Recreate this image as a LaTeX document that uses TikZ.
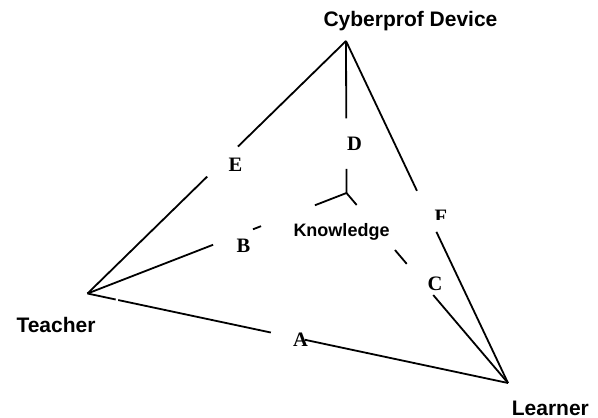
\documentclass[tikz,border=0pt]{standalone}
\usepackage{fontspec}
\newfontfamily\lsans{Liberation Sans}
\newfontfamily\lserif{Liberation Serif}
\usetikzlibrary{calc}
\begin{document}
\begin{tikzpicture}[x=1pt,y=-1pt,
  edge/.style={line width=1.8pt, line cap=butt},
  vname/.style={font=\lsans\bfseries\fontsize{21}{24}\selectfont, inner sep=0pt, anchor=base},
  kname/.style={font=\lsans\bfseries\fontsize{18}{21}\selectfont, inner sep=0pt, anchor=base},
  letter/.style={font=\lserif\bfseries\fontsize{20.5}{24}\selectfont, inner sep=0pt, anchor=base}]
\useasboundingbox (0,0) rectangle (598,418);
% vertices
\coordinate (apex) at (346,41);
\coordinate (teacher) at (87.5,293.5);
\coordinate (learner) at (508,383);
\coordinate (know) at (346.5,193);
% vertex labels
\node[vname] (tcyber) at (410.5,26) {Cyberprof Device};
\node[vname] (tteacher) at (56,332) {Teacher};
\node[vname] (tlearner) at (550.4,415.3) {Learner};
\node[kname] (tknow) at (341.5,236) {Knowledge};
% letter labels
\node[letter] (la) at (300.5,346) {A};
\node[letter] (lb) at (243.5,252) {B};
\node[letter] (lc) at (435,290) {C};
\node[letter] (ld) at (354.5,150) {D};
\node[letter] (le) at (235.5,171.7) {E};
\begin{scope}
  \clip (425,200) rectangle (460,219.5);
  \node[letter] (lf) at (441,223) {F};
\end{scope}
% Cyberprof -- Teacher (gap at E)
\draw[edge] (apex) -- ($(apex)!0.418!(teacher)$);
\draw[edge] ($(apex)!0.537!(teacher)$) -- (teacher);
% Cyberprof -- Learner (gap at F)
\draw[edge] (apex) -- ($(apex)!0.438!(learner)$);
\draw[edge] ($(apex)!0.558!(learner)$) -- (learner);
% Cyberprof -- Knowledge (gap at D)
\draw[edge] (apex) -- ($(apex)!0.509!(know)$);
\draw[edge] ($(apex)!0.842!(know)$) -- (know);
% Knowledge -- Teacher (gap at Knowledge and B)
\draw[edge] (know) -- ($(know)!0.122!(teacher)$);
\draw[edge] ($(know)!0.330!(teacher)$) -- ($(know)!0.361!(teacher)$);
\draw[edge] ($(know)!0.515!(teacher)$) -- (teacher);
% Knowledge -- Learner (gap at Knowledge and C)
\draw[edge] (know) -- ($(know)!0.063!(learner)$);
\draw[edge] ($(know)!0.300!(learner)$) -- ($(know)!0.373!(learner)$);
\draw[edge] ($(know)!0.537!(learner)$) -- (learner);
% Teacher -- Learner (gap at A)
\draw[edge] (teacher) -- ($(teacher)!0.067!(learner)$);
\draw[edge] ($(teacher)!0.073!(learner)$) -- ($(teacher)!0.436!(learner)$);
\draw[edge] ($(teacher)!0.517!(learner)$) -- (learner);
\end{tikzpicture}
\end{document}
